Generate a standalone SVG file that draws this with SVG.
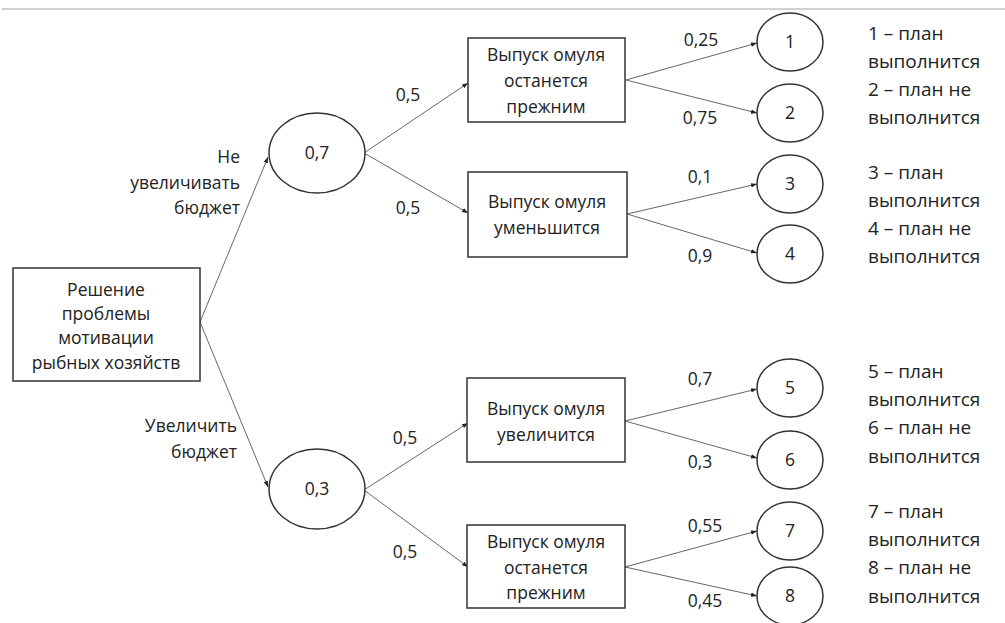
<svg xmlns="http://www.w3.org/2000/svg" width="1005" height="623" viewBox="0 0 1005 623">
<defs>
<style>
text{font-family:"Open Sans","Noto Sans",sans-serif;font-size:17.5px;font-weight:500;fill:#222}
.c{text-anchor:middle}
.r{text-anchor:end}
.lg{font-size:19px;font-weight:500}
.box{fill:#fff;stroke:#333;stroke-width:1.5}
.ell{fill:#fff;stroke:#333;stroke-width:1.5}
.ln{stroke:#666;stroke-width:1;fill:none;marker-end:url(#ah)}
</style>
<marker id="ah" viewBox="0 0 6 6" refX="6" refY="3" markerWidth="6" markerHeight="6" orient="auto" markerUnits="userSpaceOnUse">
<path d="M0,0.8 L6,3 L0,5.2 Z" fill="#222"/>
</marker>
</defs>
<rect width="1005" height="623" fill="#fff"/>
<line x1="2" y1="9" x2="1005" y2="9" stroke="#d0d0d0" stroke-width="2"/>
<g id="connectors">
<line class="ln" x1="200" y1="322" x2="268" y2="157"/>
<line class="ln" x1="200" y1="322" x2="268" y2="487"/>
<line class="ln" x1="364" y1="153" x2="468" y2="83"/>
<line class="ln" x1="364" y1="153" x2="468" y2="213"/>
<line class="ln" x1="364" y1="490" x2="468" y2="423"/>
<line class="ln" x1="364" y1="490" x2="468" y2="567"/>
<line class="ln" x1="626" y1="80" x2="757" y2="43"/>
<line class="ln" x1="626" y1="80" x2="757" y2="113"/>
<line class="ln" x1="627" y1="214" x2="757" y2="184"/>
<line class="ln" x1="627" y1="214" x2="757" y2="253"/>
<line class="ln" x1="625" y1="421" x2="757" y2="389"/>
<line class="ln" x1="625" y1="421" x2="757" y2="458"/>
<line class="ln" x1="625" y1="567" x2="757" y2="531"/>
<line class="ln" x1="625" y1="567" x2="757" y2="596"/>
<text class="r" x="240" y="163">Не</text>
<text class="r" x="240" y="189">увеличивать</text>
<text class="r" x="240" y="214">бюджет</text>
<text class="r" x="237" y="432">Увеличить</text>
<text class="r" x="237" y="458">бюджет</text>
<text class="c" x="408" y="101">0,5</text>
<text class="c" x="408" y="214">0,5</text>
<text class="c" x="405" y="444">0,5</text>
<text class="c" x="405" y="558">0,5</text>
<text class="c" x="701" y="46">0,25</text>
<text class="c" x="700" y="124">0,75</text>
<text class="c" x="700" y="183">0,1</text>
<text class="c" x="700" y="262">0,9</text>
<text class="c" x="700" y="385">0,7</text>
<text class="c" x="700" y="468">0,3</text>
<text class="c" x="705" y="532">0,55</text>
<text class="c" x="705" y="607">0,45</text>
</g>
<g id="root">
<rect class="box" x="13" y="268" width="187" height="113"/>
<text class="c" x="106" y="296">Решение</text>
<text class="c" x="106" y="320">проблемы</text>
<text class="c" x="106" y="344">мотивации</text>
<text class="c" x="106" y="369">рыбных хозяйств</text>
</g>
<g id="chance1">
<ellipse class="ell" cx="317" cy="153" rx="48" ry="40"/>
<text class="c" x="317" y="159">0,7</text>
</g>
<g id="chance2">
<ellipse class="ell" cx="317" cy="489" rx="48" ry="40"/>
<text class="c" x="317" y="495">0,3</text>
</g>
<g id="box1">
<rect class="box" x="468" y="38" width="157" height="84"/>
<text class="c" x="546" y="61">Выпуск омуля</text>
<text class="c" x="546" y="87">останется</text>
<text class="c" x="546" y="113">прежним</text>
</g>
<g id="box2">
<rect class="box" x="468" y="172" width="159" height="85"/>
<text class="c" x="547" y="208">Выпуск омуля</text>
<text class="c" x="547" y="234">уменьшится</text>
</g>
<g id="box3">
<rect class="box" x="467" y="378" width="158" height="84"/>
<text class="c" x="546" y="415">Выпуск омуля</text>
<text class="c" x="546" y="441">увеличится</text>
</g>
<g id="box4">
<rect class="box" x="467" y="525" width="158" height="83"/>
<text class="c" x="546" y="548">Выпуск омуля</text>
<text class="c" x="546" y="574">останется</text>
<text class="c" x="546" y="599">прежним</text>
</g>
<g id="o1"><ellipse class="ell" cx="790" cy="42" rx="33" ry="29"/><text class="c" x="790" y="48">1</text></g>
<g id="o2"><ellipse class="ell" cx="790" cy="113" rx="33" ry="29"/><text class="c" x="790" y="119">2</text></g>
<g id="o3"><ellipse class="ell" cx="790" cy="184" rx="33" ry="29"/><text class="c" x="790" y="190">3</text></g>
<g id="o4"><ellipse class="ell" cx="790" cy="254" rx="33" ry="29"/><text class="c" x="790" y="260">4</text></g>
<g id="o5"><ellipse class="ell" cx="790" cy="388" rx="33" ry="29"/><text class="c" x="790" y="394">5</text></g>
<g id="o6"><ellipse class="ell" cx="790" cy="460" rx="33" ry="29"/><text class="c" x="790" y="466">6</text></g>
<g id="o7"><ellipse class="ell" cx="790" cy="531" rx="33" ry="29"/><text class="c" x="790" y="537">7</text></g>
<g id="o8"><ellipse class="ell" cx="790" cy="596" rx="33" ry="29"/><text class="c" x="790" y="602">8</text></g>
<g id="legend">
<text class="lg" x="868" y="40">1 – план</text>
<text class="lg" x="868" y="68">выполнится</text>
<text class="lg" x="868" y="96">2 – план не</text>
<text class="lg" x="868" y="124">выполнится</text>
<text class="lg" x="868" y="179">3 – план</text>
<text class="lg" x="868" y="207">выполнится</text>
<text class="lg" x="868" y="235">4 – план не</text>
<text class="lg" x="868" y="263">выполнится</text>
<text class="lg" x="868" y="378">5 – план</text>
<text class="lg" x="868" y="406">выполнится</text>
<text class="lg" x="868" y="434">6 – план не</text>
<text class="lg" x="868" y="463">выполнится</text>
<text class="lg" x="868" y="518">7 – план</text>
<text class="lg" x="868" y="546">выполнится</text>
<text class="lg" x="868" y="574">8 – план не</text>
<text class="lg" x="868" y="603">выполнится</text>
</g>
</svg>
